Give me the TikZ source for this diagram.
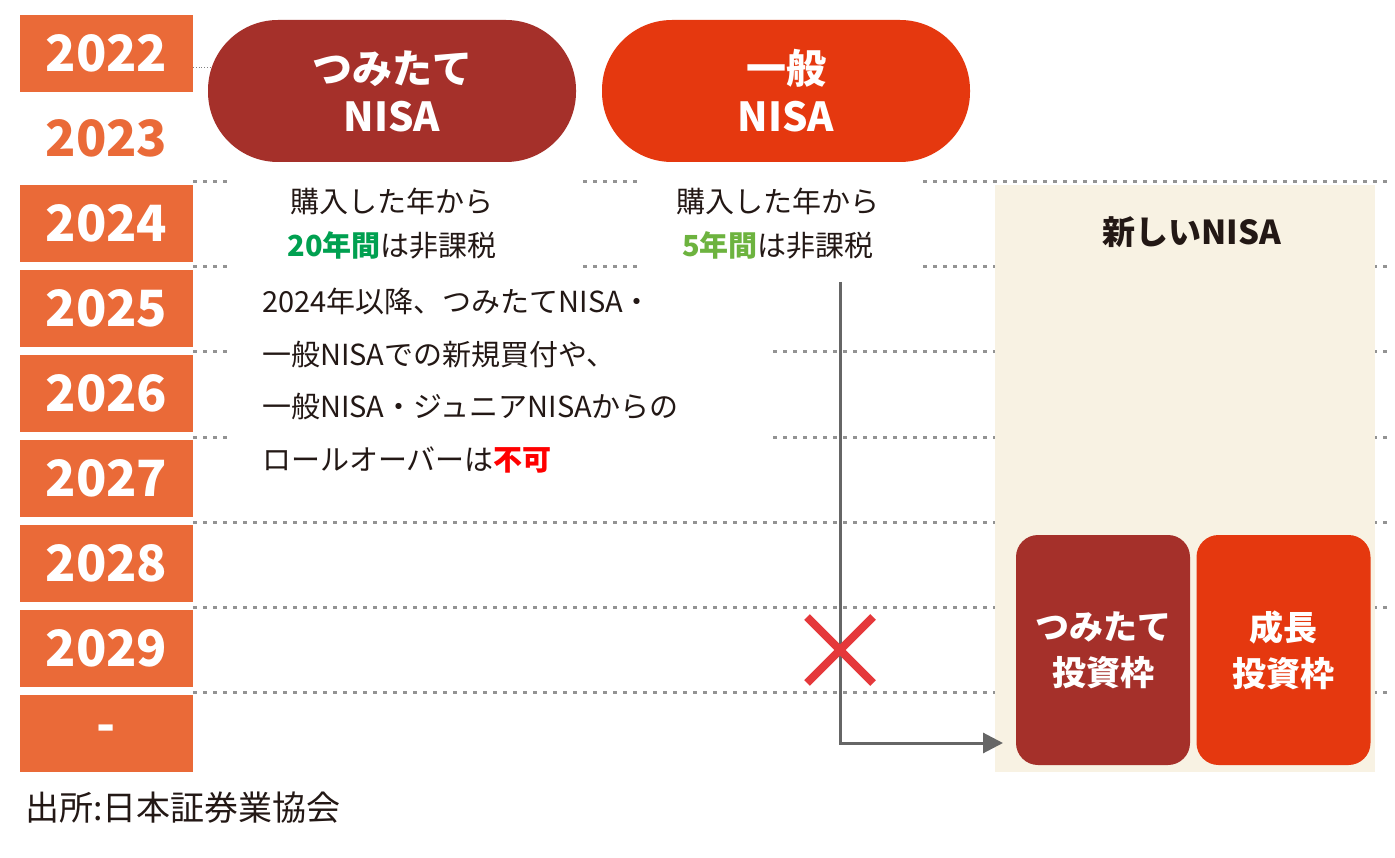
\documentclass[tikz,border=0pt]{standalone}
\usetikzlibrary{arrows.meta,calc}
\usepackage{fontspec}
\setmainfont{Noto Sans CJK JP}
\definecolor{yr}{HTML}{EA6A38}
\definecolor{dred}{HTML}{A5302A}
\definecolor{ored}{HTML}{E5380F}
\definecolor{cream}{HTML}{F8F2E3}
\definecolor{gA}{HTML}{00A050}
\definecolor{gB}{HTML}{6DB33F}
\definecolor{xr}{HTML}{E5383B}
\definecolor{tx}{HTML}{231815}
\tikzset{
 yrbox/.style={fill=yr,draw=none,minimum width=173pt,minimum height=77pt,inner sep=0pt,text=white,font=\fontsize{50}{50}\selectfont\bfseries},
 dl/.style={draw=gray!85,line width=3pt,dash pattern=on 4pt off 6pt},
 pill/.style={rounded corners=70pt,minimum width=368pt,minimum height=142pt,inner sep=0pt,text=white,align=center,font=\fontsize{40}{48}\selectfont\bfseries},
 desc/.style={text=tx,font=\fontsize{29}{44}\selectfont,align=center,inner sep=0pt},
 inbox/.style={rounded corners=22pt,minimum width=174pt,minimum height=230pt,inner sep=0pt,text=white,align=center,font=\fontsize{34}{46}\selectfont\bfseries}
}
\begin{document}
\begin{tikzpicture}[x=1pt,y=-1pt]
\useasboundingbox (0,0) rectangle (1395,858);
\fill[white] (0,0) rectangle (1395,858);
% dashed lines
\foreach \y in {182,267,352,437,522,607,692} \draw[dl] (193,\y) -- (1390,\y);
\draw[gray,dotted,line width=0.8pt] (193,67) -- (210,67);
% white masks
\fill[white] (232,172) rectangle (577,272);
\fill[white] (637,172) rectangle (918,272);
\fill[white] (232,272) rectangle (770,490);
% new NISA area
\fill[cream] (995,185) rectangle (1375,772);
% years
\node[yrbox] (y22) at (106.5,53.5) {2022};
\node[yrbox,fill=none,text=yr] (y23) at (106.5,138.5) {2023};
\node[yrbox] (y24) at (106.5,223.5) {2024};
\node[yrbox] (y25) at (106.5,308.5) {2025};
\node[yrbox] (y26) at (106.5,393.5) {2026};
\node[yrbox] (y27) at (106.5,478.5) {2027};
\node[yrbox] (y28) at (106.5,563.5) {2028};
\node[yrbox] (y29) at (106.5,648.5) {2029};
\node[yrbox] (yx) at (106.5,733.5) {-};
% pills
\node[pill,fill=dred] (tn) at (392,91) {つみたて\\NISA};
\node[pill,fill=ored] (gn) at (786,91) {一般\\NISA};
\node[desc] (d1) at (392,224) {購入した年から\\{\bfseries\color{gA}20年間}は非課税};
\node[desc] (d2) at (778,224) {購入した年から\\{\bfseries\color{gB}5年間}は非課税};
\node[desc,align=left,anchor=north west,font=\fontsize{29}{52.5}\selectfont] (d3) at (262,288) {2024年以降、つみたてNISA・\\一般NISAでの新規買付や、\\一般NISA・ジュニアNISAからの\\ロールオーバーは{\bfseries\color{red}不可}};
\node[text=tx,font=\fontsize{33}{40}\selectfont\bfseries] (nn) at (1192,232) {新しいNISA};
\node[inbox,fill=dred] (b1) at (1103,650) {つみたて\\投資枠};
\node[inbox,fill=ored] (b2) at (1283.5,650) {成長\\投資枠};
% arrow
\coordinate (s) at (840,282);
\coordinate (c) at (840,743);
\coordinate (e) at (1003,743);
\draw[draw=gray!80!black,line width=3pt,-{Triangle[length=20pt,width=20pt]}] (s) -- (c) -- (e);
% X
\coordinate (xc) at (840,650);
\draw[xr,line width=8pt] ($(xc)+(-33,-33)$) -- ($(xc)+(33,33)$) ($(xc)+(33,-33)$) -- ($(xc)+(-33,33)$);
\node[anchor=west,text=tx,font=\fontsize{34}{40}\selectfont] (src) at (22,808) {出所:日本証券業協会};
\end{tikzpicture}
\end{document}
